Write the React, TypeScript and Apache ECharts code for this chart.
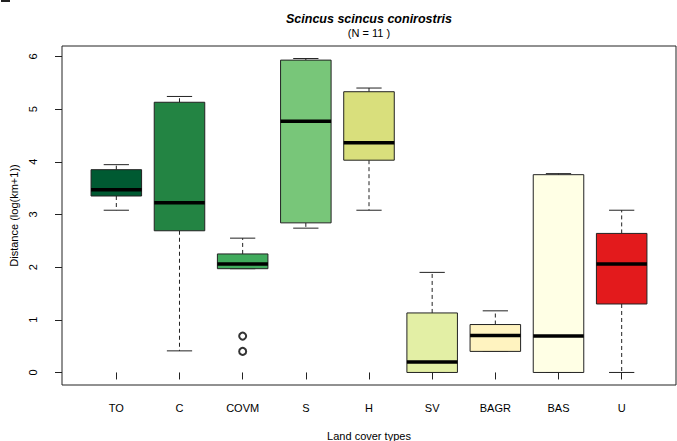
import React, { useEffect, useRef } from "react";
import * as echarts from "echarts";

const categories = ["TO", "C", "COVM", "S", "H", "SV", "BAGR", "BAS", "U"];
const lowerWhisker = [3.08, 0.41, 1.97, 2.74, 3.08, 0, 0.4, 0, 0];
const q1 = [3.35, 2.69, 1.97, 2.84, 4.03, 0, 0.4, 0, 1.3];
const medians = [3.47, 3.22, 2.06, 4.77, 4.36, 0.2, 0.7, 0.69, 2.06];
const q3 = [3.85, 5.13, 2.25, 5.93, 5.33, 1.13, 0.91, 3.755, 2.64];
const upperWhisker = [3.945, 5.24, 2.55, 5.96, 5.4, 1.9, 1.17, 3.775, 3.08];
const outlierCategory = ["COVM", "COVM"];
const outlierValues = [0.69, 0.4];
const boxColors = [
  "#005a32",
  "#238443",
  "#41ab5d",
  "#78c679",
  "#d9df7c",
  "#e3efa5",
  "#fff3c0",
  "#ffffe5",
  "#e31a1c",
];
const yTicks = [0, 1, 2, 3, 4, 5, 6];

const FONT = "'Liberation Sans', Arial, Helvetica, sans-serif";

export default function App() {
  const ref = useRef<HTMLDivElement>(null);
  useEffect(() => {
    document.body.style.margin = "0";
    if (!ref.current) return;
    const chart = echarts.init(ref.current, undefined, { renderer: "svg" });
    const boxData = categories.map((c, i) => [
      i + 1,
      lowerWhisker[i],
      q1[i],
      medians[i],
      q3[i],
      upperWhisker[i],
    ]);
    const outlierData = outlierValues.map((v, k) => [
      categories.indexOf(outlierCategory[k]) + 1,
      v,
    ]);
    const option: any = {
      animation: false,
      backgroundColor: "#fff",
      textStyle: { fontFamily: FONT },
      grid: {
        left: 62,
        right: 1,
        top: 46,
        bottom: 56,
        containLabel: false,
        outerBoundsMode: "none",
        show: true,
        borderColor: "#222",
        borderWidth: 1,
        backgroundColor: "transparent",
      },
      graphic: [
        {
          type: "text",
          x: 369,
          y: 19,
          style: {
            text: "Scincus scincus conirostris",
            fontFamily: FONT,
            fontSize: 12.5,
            fontWeight: "bold",
            fontStyle: "italic",
            fill: "#000",
            align: "center",
            verticalAlign: "middle",
          },
        },
        {
          type: "text",
          x: 369,
          y: 33,
          style: {
            text: "(N = 11 )",
            fontFamily: FONT,
            fontSize: 11,
            fill: "#000",
            align: "center",
            verticalAlign: "middle",
          },
        },
        {
          type: "rect",
          shape: { x: 1, y: 0, width: 9, height: 2 },
          style: { fill: "#222" },
        },
      ],
      xAxis: {
        type: "value",
        min: 0.14,
        max: 9.86,
        splitLine: { show: false },
        axisLine: { show: false },
        axisTick: {
          show: true,
          length: 7,
          inside: false,
          customValues: categories.map((c, i) => i + 1),
          lineStyle: { color: "#222", width: 1 },
        },
        axisLabel: {
          customValues: categories.map((c, i) => i + 1),
          formatter: (v: number) => categories[Math.round(v) - 1] || "",
          fontSize: 11,
          color: "#000",
          fontFamily: FONT,
          margin: 17,
        },
        name: "Land cover types",
        nameLocation: "middle",
        nameGap: 45,
        nameTextStyle: { fontSize: 11, color: "#000", fontFamily: FONT },
      },
      yAxis: {
        type: "value",
        min: -0.238,
        max: 6.198,
        splitLine: { show: false },
        axisLine: { show: false },
        axisTick: {
          show: true,
          length: 7,
          inside: false,
          customValues: yTicks,
          lineStyle: { color: "#222", width: 1 },
        },
        axisLabel: {
          customValues: yTicks,
          rotate: 90,
          fontSize: 11,
          color: "#000",
          fontFamily: FONT,
          margin: 24,
        },
        name: "Distance (log(km+1))",
        nameLocation: "middle",
        nameGap: 41,
        nameRotate: 90,
        nameTextStyle: { fontSize: 11, color: "#000", fontFamily: FONT },
      },
      series: [
        {
          type: "custom",
          data: boxData,
          encode: { x: 0, y: [1, 2, 3, 4, 5] },
          renderItem: (params: any, api: any) => {
            const x = api.value(0);
            const lo = api.value(1);
            const b1 = api.value(2);
            const md = api.value(3);
            const b3 = api.value(4);
            const hi = api.value(5);
            const halfW = api.size([0.8, 0])[0] / 2;
            const capW = halfW / 2;
            const pLo = api.coord([x, lo]);
            const pQ1 = api.coord([x, b1]);
            const pMd = api.coord([x, md]);
            const pQ3 = api.coord([x, b3]);
            const pHi = api.coord([x, hi]);
            const cx = pMd[0];
            const dashStyle = {
              stroke: "#222",
              lineWidth: 1,
              lineDash: [4, 3],
            };
            const solid = { stroke: "#222", lineWidth: 1 };
            return {
              type: "group",
              children: [
                {
                  type: "line",
                  shape: { x1: cx, y1: pQ3[1], x2: cx, y2: pHi[1] },
                  style: dashStyle,
                },
                {
                  type: "line",
                  shape: { x1: cx, y1: pQ1[1], x2: cx, y2: pLo[1] },
                  style: dashStyle,
                },
                {
                  type: "line",
                  shape: { x1: cx - capW, y1: pHi[1], x2: cx + capW, y2: pHi[1] },
                  style: solid,
                },
                {
                  type: "line",
                  shape: { x1: cx - capW, y1: pLo[1], x2: cx + capW, y2: pLo[1] },
                  style: solid,
                },
                {
                  type: "rect",
                  shape: {
                    x: cx - halfW,
                    y: pQ3[1],
                    width: halfW * 2,
                    height: pQ1[1] - pQ3[1],
                  },
                  style: {
                    fill: boxColors[params.dataIndex],
                    stroke: "#222",
                    lineWidth: 1,
                  },
                },
                {
                  type: "line",
                  shape: { x1: cx - halfW, y1: pMd[1], x2: cx + halfW, y2: pMd[1] },
                  style: { stroke: "#000", lineWidth: 3.5 },
                },
              ],
            };
          },
        },
        {
          type: "scatter",
          data: outlierData,
          symbol: "emptyCircle",
          symbolSize: 7,
          itemStyle: { color: "#000", borderColor: "#000", borderWidth: 1 },
        },
      ],
    };
    chart.setOption(option);
    return () => chart.dispose();
  }, []);
  return <div ref={ref} style={{ width: 677, height: 441 }} />;
}
